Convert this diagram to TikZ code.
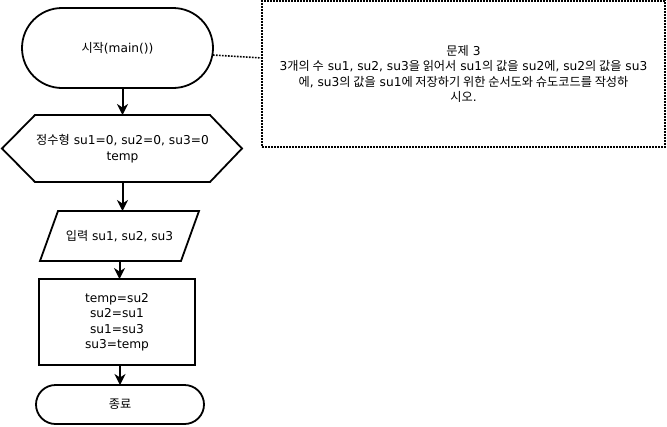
\documentclass[tikz,border=0pt]{standalone}
\usepackage{fontspec}
\setmainfont{DejaVu Sans}
\newfontfamily\krfont{Noto Sans CJK KR}
\newcommand\K[1]{{\krfont #1}}
\usetikzlibrary{arrows.meta,calc}
\begin{document}
\begin{tikzpicture}[x=1pt,y=-1pt,
  every node/.style={font=\fontsize{12.2}{15.5}\selectfont, align=center, inner sep=0pt, outer sep=0pt},
  shp/.style={draw=black, line width=1.8pt},
  term/.style={shp, rectangle},
  ghost/.style={rectangle},
  arr/.style={line width=2pt, -{Stealth[length=11pt,width=11pt,inset=3.5pt]}},
  notebox/.style={draw=black, line width=1.6pt, dash pattern=on 1.6pt off 1.4pt},
  link/.style={line width=1.6pt, dash pattern=on 1.6pt off 1.4pt}]
\useasboundingbox (0,0) rectangle (667,426);
% start
\node[term, rounded corners=40pt, minimum width=191pt, minimum height=80pt] (start) at (117.5,48) {\K{시작}(main())};
% declaration hexagon
\node[ghost, minimum width=175pt, minimum height=67pt] (hex) at (122.5,148.5) {\K{정수형} su1=0, su2=0, su3=0\\temp};
\draw[shp, line join=miter] (hex.north west) -- (hex.north east) -- ++(32,33.5) -- (hex.south east) -- (hex.south west) -- ++(-33,-33.5) -- cycle;
% input parallelogram
\node[ghost, minimum width=141pt, minimum height=50pt] (inp) at (119.5,236) {\K{입력} su1, su2, su3};
\draw[shp, line join=miter] ($(inp.north west)+(9,0)$) -- ($(inp.north east)+(9,0)$) -- ($(inp.south east)+(-9,0)$) -- ($(inp.south west)+(-9,0)$) -- cycle;
% process
\node[shp, rectangle, minimum width=156pt, minimum height=86pt] (proc) at (117,322) {temp=su2\\su2=su1\\su1=su3\\su3=temp};
% end
\node[term, rounded corners=19.5pt, minimum width=168pt, minimum height=39pt] (stop) at (120,404.5) {\K{종료}};
% note
\node[notebox, rectangle, minimum width=403pt, minimum height=146pt] (note) at (463.5,74) {\K{문제} 3\\3\K{개의 수} su1, su2, su3\K{을 읽어서} su1\K{의 값을} su2\K{에}, su2\K{의 값을} su3\\\K{에}, su3\K{의 값을} su1\K{에 저장하기 위한 순서도와 슈도코드를 작성하}\\\K{시오}.};
% connectors
\draw[arr] (hex.north |- start.south) -- (hex.north);
\draw[arr] (hex.south) -- (hex.south |- inp.north);
\draw[arr] (inp.south) -- (inp.south |- proc.north);
\draw[arr] (stop.north |- proc.south) -- (stop.north);
\draw[link] ([yshift=-7pt]start.east) -- ([yshift=16pt]note.west);
\end{tikzpicture}
\end{document}
